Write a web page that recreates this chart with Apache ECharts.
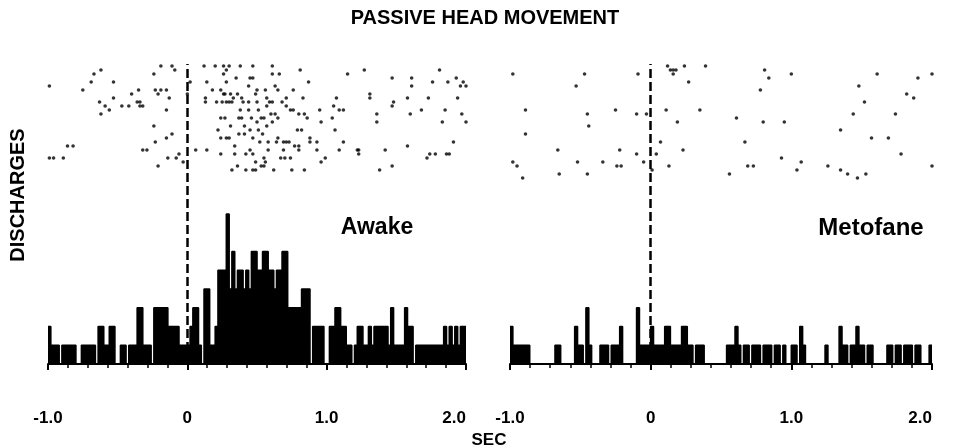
<!DOCTYPE html>
<html>
<head>
<meta charset="utf-8">
<script src="https://cdn.jsdelivr.net/npm/echarts@6/dist/echarts.min.js"></script>
<style>html,body{margin:0;padding:0;background:#fff}#c{width:956px;height:448px}</style>
</head>
<body>
<div id="c"></div>
<script>
// ---- DATA ----
const tickLabels = ['-1.0', '0', '1.0', '2.0'];
const binStartSec = -1.0;
const binWidthSec = 0.02;

// Peri-stimulus histogram counts, 20 ms bins from -1.0 to 2.0 s
const awakeCounts = [
 2,1,1,1,0,1,1,1,1,1, 0,0,1,1,1,1,1,0,2,2, 1,1,2,2,0,0,1,1,0,1,
 1,1,3,3,1,1,1,0,3,3, 3,3,3,2,2,2,2,1,1,1, 1,2,3,3,1,0,4,4,1,1,
 2,5,5,5,8,4,6,4,5,5, 4,5,4,6,6,5,5,6,6,5, 5,4,5,5,6,6,3,3,3,3,
 3,4,4,4,0,2,2,2,2,0, 0,2,2,3,3,2,2,1,1,0, 1,2,2,1,1,2,1,2,2,2,
 2,2,1,3,1,1,1,1,3,2, 2,0,1,1,1,1,1,1,1,1, 1,1,2,1,2,1,2,1,2,2
];
const metofaneCounts = [
 2,1,1,1,1,1,1,0,0,0, 0,0,0,0,0,0,1,1,0,0, 0,0,0,2,1,1,0,3,1,0,
 0,0,1,1,1,0,1,1,1,2, 0,0,0,0,0,3,1,1,1,1, 2,1,1,1,1,2,2,1,1,1,
 1,2,2,1,1,0,1,1,1,0, 0,0,0,0,0,0,0,1,1,1, 2,1,0,1,1,0,1,1,1,0,
 1,1,1,0,1,1,0,1,0,0, 1,1,0,2,1,0,0,0,0,0, 0,0,1,0,0,0,0,2,1,1,
 0,1,1,2,1,1,0,1,1,0, 0,0,0,0,1,1,0,1,1,0, 1,1,1,0,1,1,0,0,0,1
];

// Raster: [time (s), trial]
const awakeRaster = [
 [-0.99,24],[-0.75,23],[-0.69,25],[-0.67,27],[-0.62,28],[-0.53,25],[-0.63,20],[-0.59,19],[-0.53,21],[-0.56,18],
 [-0.62,17],[-0.47,19],[-0.42,19],[-0.40,22],[-0.35,23],[-0.36,20],[-0.34,20],[-0.34,19],[-0.32,19],[-0.24,27],
 [-0.19,29],[-0.11,29],[-0.09,28],[-0.23,23],[-0.19,23],[-0.15,23],[-0.21,22],[-0.13,21],[0.00,22],[-0.15,18],
 [-0.24,14],[-0.11,12],[-0.15,11],[-0.23,10],[-0.32,8],[-0.29,8],[-0.86,9],[-0.82,9],[-0.99,6],[-0.96,6],
 [-0.89,6],[-0.06,7],[-0.08,6],[-0.14,6],[-0.03,5],[-0.21,4],
 [0.02,25],[0.12,29],[0.20,29],[0.26,29],[0.30,29],[0.26,27],[0.28,28],[0.35,26],[0.14,25],[0.28,25],
 [0.18,23],[0.24,23],[0.26,22],[0.27,22],[0.36,22],[0.13,21],[0.31,22],[0.33,21],[0.30,20],[0.28,20],
 [0.32,20],[0.13,20],[0.21,20],[0.25,20],[0.24,16],[0.27,16],[0.37,16],[0.31,14],[0.22,13],[0.28,11],
 [0.30,11],[0.24,11],[0.37,12],[0.34,9],[0.24,7],[0.34,7],[0.06,8],[0.14,8],[0.32,3],[0.36,4],
 [0.38,29],[0.47,29],[0.61,29],[0.45,26],[0.47,26],[0.61,27],[0.66,27],[0.81,28],[0.87,25],[1.15,27],
 [1.27,28],[1.47,26],[1.61,26],[1.81,28],[1.76,25],[1.87,25],[1.93,26],[1.98,25],[1.96,24],[2.00,24],
 [0.44,24],[0.50,23],[0.49,22],[0.56,23],[0.63,24],[0.65,23],[0.76,23],[1.61,24],[1.31,22],[1.31,21],
 [0.71,21],[0.39,21],[0.40,20],[0.44,20],[0.50,20],[0.57,21],[0.59,20],[0.61,20],[0.68,20],[0.83,21],
 [1.07,21],[1.48,20],[1.47,19],[1.58,21],[1.73,21],[1.94,21],
 [0.38,18],[0.44,18],[0.51,18],[0.57,19],[0.71,19],[0.74,18],[0.76,18],[0.80,17],[0.84,17],[0.95,18],
 [1.05,19],[1.09,18],[1.12,18],[1.36,17],[1.60,17],[1.68,18],[1.85,18],[1.97,17],
 [0.39,16],[0.46,16],[0.50,15],[0.53,16],[0.55,16],[0.60,17],[0.63,17],[0.65,16],[0.61,15],[0.96,15],
 [0.86,16],[1.04,16],[1.36,15],[1.83,15],[2.00,15],
 [0.41,14],[0.45,13],[0.51,13],[0.54,12],[0.57,14],[0.79,13],[0.82,13],[0.41,12],[1.06,13],
 [0.47,11],[0.52,10],[0.58,10],[0.64,10],[0.65,11],[0.69,10],[0.71,10],[0.73,10],[0.77,9],[0.80,9],
 [0.88,11],[0.88,10],[0.93,10],[1.12,10],[1.91,10],
 [1.09,8],[1.22,8],[1.23,8],[1.23,7],[1.42,8],[1.58,9],[0.45,8],[0.42,7],[0.47,7],[0.58,8],
 [0.69,8],[0.80,8],[0.70,6],[0.67,6],[0.74,6],[0.93,8],
 [0.55,6],[0.56,5],[0.49,5],[0.96,5],[0.99,6],[1.72,6],[1.74,7],[1.78,7],[1.86,7],[1.88,7],
 [0.42,3],[0.47,3],[0.49,3],[0.53,4],[0.55,4],[0.62,3],[0.75,3],[0.84,3],[1.38,3],[1.47,4]
];
const metofaneRaster = [
 [-0.98,27],[-0.47,27],[-0.53,24],[-0.09,27],[-0.89,18],[-0.45,17],[-0.44,14],[-0.25,18],[-0.10,17],[-0.03,17],
 [-0.89,12],[-0.66,8],[-0.22,8],[-0.98,5],[-0.95,4],[-0.52,5],[-0.34,5],[-0.24,4],[-0.21,4],[-0.10,7],
 [-0.05,5],[0.01,3],[-0.91,1],[-0.65,2],[-0.45,2],
 [0.12,29],[0.14,28],[0.16,28],[0.18,28],[0.24,29],[0.16,27],[0.39,29],[0.27,25],[0.11,18],[0.35,18],
 [0.19,15],[0.07,10],[0.23,8],[0.13,4],[0.04,7],
 [0.81,28],[0.84,26],[1.00,27],[0.78,23],[0.61,16],[0.80,15],[0.95,15],[0.67,10],[0.93,6],[0.69,4],
 [0.73,4],[0.56,2],[1.07,5],[1.04,3],[1.26,4],[1.35,13],[1.35,3],[1.40,2],[1.47,1],[1.53,2],
 [1.44,17],[1.48,24],[1.52,20],[1.61,27],[1.57,11],[1.69,11],[1.74,17],[1.78,7],[1.82,22],[1.87,21],
 [1.90,26],[2.00,27],[2.00,4]
];

// ---- BUILD ----
function stepData(counts) {
  const out = counts.map((c, i) => [binStartSec + i * binWidthSec, c]);
  out.push([binStartSec + counts.length * binWidthSec, counts[counts.length - 1]]);
  return out;
}
const labelFont = { fontFamily: 'Liberation Sans, Arial, sans-serif', fontWeight: 'bold', fontSize: 17, color: '#000' };
function histX(gi) {
  return {
    type: 'value', gridIndex: gi, min: -1, max: 2, interval: 1,
    axisLine: { show: true, onZero: false, lineStyle: { color: '#000', width: 2 } },
    axisTick: { show: true, length: 6, lineStyle: { color: '#000', width: 2 } },
    minorTick: { show: true, splitNumber: 7, length: 4, lineStyle: { color: '#000', width: 1.5 } },
    splitLine: { show: false },
    axisLabel: Object.assign({ margin: 46, alignMaxLabel: 'right',
      formatter: v => tickLabels[Math.round(v) + 1] }, labelFont)
  };
}
function rasterX(gi) { return { type: 'value', gridIndex: gi, min: -1, max: 2, show: false }; }
function histY(gi) { return { type: 'value', gridIndex: gi, min: 0, max: 16, show: false }; }
function rasterY(gi) { return { type: 'value', gridIndex: gi, min: 0, max: 30, show: false }; }
const dashLine = {
  symbol: 'none', silent: true, label: { show: false },
  lineStyle: { type: [9, 4], color: '#000', width: 2.5 },
  data: [{ xAxis: 0 }]
};
function histSeries(ai, counts) {
  return {
    type: 'line', xAxisIndex: ai, yAxisIndex: ai, step: 'end', symbol: 'none',
    lineStyle: { color: '#000', width: 1.6 }, areaStyle: { color: '#000', opacity: 1 },
    data: stepData(counts), markLine: dashLine, z: 2
  };
}
function rasterSeries(ai, pts) {
  return { type: 'scatter', xAxisIndex: ai, yAxisIndex: ai, symbol: 'circle', symbolSize: 3.6,
    itemStyle: { color: '#000' }, data: pts };
}
const font = 'Liberation Sans, Arial, sans-serif';
const chart = echarts.init(document.getElementById('c'), null, { renderer: 'canvas' });
chart.setOption({
  animation: false,
  backgroundColor: '#fff',
  grid: [
    { left: 48, top: 64, width: 418, height: 300 },
    { left: 48, top: 62, width: 418, height: 120 },
    { left: 510, top: 64, width: 422, height: 300 },
    { left: 510, top: 62, width: 422, height: 120 }
  ],
  xAxis: [histX(0), rasterX(1), histX(2), rasterX(3)],
  yAxis: [histY(0), rasterY(1), histY(2), rasterY(3)],
  series: [
    histSeries(0, awakeCounts), rasterSeries(1, awakeRaster),
    histSeries(2, metofaneCounts), rasterSeries(3, metofaneRaster)
  ],
  graphic: [
    { type: 'text', x: 485, y: 18, style: { text: 'PASSIVE HEAD MOVEMENT', x: 0, y: 0, align: 'center', verticalAlign: 'middle', font: 'bold 20px ' + font, fill: '#000' } },
    { type: 'text', x: 18, y: 195, rotation: Math.PI / 2, style: { text: 'DISCHARGES', x: 0, y: 0, align: 'center', verticalAlign: 'middle', font: 'bold 20px ' + font, fill: '#000' } },
    { type: 'text', x: 377, y: 228, style: { text: 'Awake', x: 0, y: 0, align: 'center', verticalAlign: 'middle', font: 'bold 23px ' + font, fill: '#000' } },
    { type: 'text', x: 871, y: 228, style: { text: 'Metofane', x: 0, y: 0, align: 'center', verticalAlign: 'middle', font: 'bold 24px ' + font, fill: '#000' } },
    { type: 'text', x: 489, y: 440, style: { text: 'SEC', x: 0, y: 0, align: 'center', verticalAlign: 'middle', font: 'bold 17px ' + font, fill: '#000' } }
  ]
});
</script>
</body>
</html>
